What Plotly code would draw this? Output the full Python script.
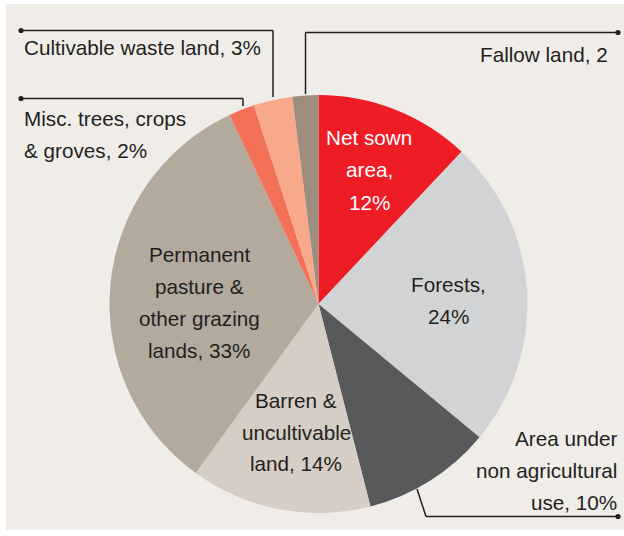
import plotly.graph_objects as go

W, H = 624, 536

# ---- data ----
categories = ["Net sown area", "Forests", "Area under non agricultural use",
              "Barren & uncultivable land", "Permanent pasture & other grazing lands",
              "Misc. trees, crops & groves", "Cultivable waste land", "Fallow land"]
shares = [12, 24, 10, 14, 33, 2, 3, 2]
slice_colors = ["#EE1C25", "#D1D3D4", "#58595B", "#D6CDC4",
                "#B4A99D", "#F37257", "#F9A98B", "#9D8D7E"]

# label text lines (inside and outside labels)
label_net = ["Net sown", "area,", "12%"]
label_forest = ["Forests,", "24%"]
label_barren = ["Barren &", "uncultivable", "land, 14%"]
label_pasture = ["Permanent", "pasture &", "other grazing", "lands, 33%"]
label_nonagri = ["Area under", "non agricultural", "use, 10%"]
label_misc = ["Misc. trees, crops", "& groves, 2%"]
label_waste = ["Cultivable waste land, 3%"]
label_fallow = ["Fallow land, 2"]

BG = "#F0EDE9"
INK = "#231F20"
FONT = "Liberation Sans, Arial, sans-serif"
FS = 20.7


def px(x):
    return x / W


def py(y):
    return 1 - y / H


fig = go.Figure()
fig.add_trace(go.Pie(
    labels=categories, values=shares, sort=False, direction="clockwise",
    rotation=0, textinfo="none", hoverinfo="label+percent",
    marker=dict(colors=slice_colors, line=dict(width=0)),
    domain=dict(x=[px(109.5), px(527.5)], y=[py(513), py(95)]),
    showlegend=False,
))

annotations = []


def add_lines(lines, x, y0, step, anchor, color=INK, size=FS):
    for i, t in enumerate(lines):
        annotations.append(dict(
            text=t, x=px(x), y=py(y0 + i * step), xref="paper", yref="paper",
            xanchor=anchor, yanchor="middle", showarrow=False,
            font=dict(family=FONT, size=size, color=color)))


add_lines(label_net, 369, 137, 32.5, "center", color="white")
add_lines(label_forest, 448, 284, 32, "center")
add_lines(label_barren, 296, 400, 32, "center")
add_lines(label_pasture, 199, 254, 32.3, "center")
add_lines(label_nonagri, 619, 438, 32, "right")
add_lines(label_misc, 22, 118, 32, "left")
add_lines(label_waste, 22, 47, 32, "left")
add_lines(label_fallow, 610, 54, 32, "right")

shapes = []
# thin white border strips (left, top, bottom)
for (x0, y0, x1, y1) in [(0, 0, 6, 536), (0, 0, 624, 4), (0, 530, 624, 536)]:
    shapes.append(dict(type="rect", xref="paper", yref="paper",
                       x0=px(x0), x1=px(x1), y0=py(y1), y1=py(y0),
                       fillcolor="white", line=dict(width=0), layer="below"))


def polyline(pts):
    for (x0, y0), (x1, y1) in zip(pts[:-1], pts[1:]):
        shapes.append(dict(type="line", xref="paper", yref="paper",
                           x0=px(x0), y0=py(y0), x1=px(x1), y1=py(y1),
                           line=dict(color=INK, width=1.5)))


def dot(x, y, r=2.6):
    shapes.append(dict(type="circle", xref="paper", yref="paper",
                       x0=px(x - r), x1=px(x + r), y0=py(y + r), y1=py(y - r),
                       fillcolor=INK, line=dict(width=0)))


polyline([(21, 30.5), (273, 30.5), (273, 97)])
dot(21, 30.5)
polyline([(21, 98.5), (243, 98.5), (243, 106)])
dot(21, 98.5)
polyline([(618, 32.5), (305.5, 32.5), (305.5, 94)])
dot(618, 32.5)
polyline([(417, 489), (426, 516.5), (618, 516.5)])
dot(618, 516.5)

fig.update_layout(
    width=W, height=H, margin=dict(l=0, r=0, t=0, b=0),
    paper_bgcolor=BG, plot_bgcolor=BG,
    annotations=annotations, shapes=shapes,
)

fig.write_html(
    "out.html",
    config={"displayModeBar": False},
    post_script="document.body.style.margin='0';document.body.style.overflow='hidden';"
                "document.body.style.background='" + BG + "';",
)
